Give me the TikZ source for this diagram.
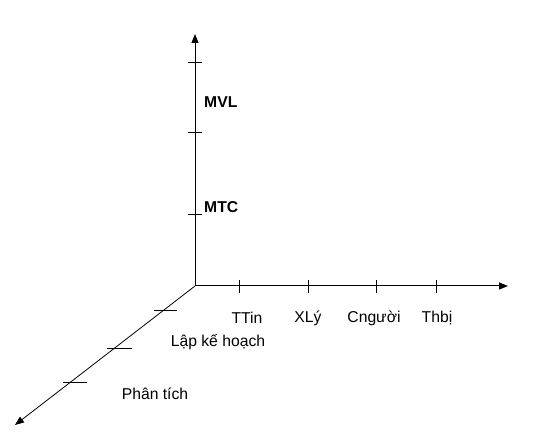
\documentclass[tikz,border=0pt]{standalone}
\usepackage{fontspec}
\setmainfont{Liberation Sans}
\usetikzlibrary{arrows.meta}
\begin{document}
\begin{tikzpicture}[x=1pt,y=-1pt,
  axis/.style={line width=1pt,-{Triangle[length=9pt,width=7pt]}},
  daxis/.style={line width=0.8pt,-{Triangle[length=9pt,width=7pt]}},
  tick/.style={line width=0.9pt},
  lbl/.style={font=\fontsize{15.7pt}{17pt}\selectfont, inner sep=0pt},
  blbl/.style={font=\fontsize{15.7pt}{17pt}\selectfont\bfseries, inner sep=0pt, anchor=west}]
\useasboundingbox (0,0) rectangle (536,438);
\coordinate (O) at (195,286);
\coordinate (Ytop) at (195,34);
\coordinate (Xend) at (508,286);
\coordinate (Zend) at (15,425);
\draw[axis] (O) -- (Ytop);
\draw[axis] (O) -- (Xend);
\draw[daxis] (O) -- (Zend);
% vertical ticks
\foreach \y in {62,132,214} \draw[tick] (188,\y) -- (202,\y);
% horizontal ticks
\foreach \x in {239,308,376,436} \draw[tick] (\x,280) -- (\x,293);
% diagonal ticks
\draw[tick] (154,310) -- (177,310);
\draw[tick] (107,348) -- (132,348);
\draw[tick] (63,382) -- (87,382);
% labels
\node[blbl] (mvl) at (204,102) {MVL};
\node[blbl] (mtc) at (204,207) {MTC};
\node[lbl] (ttin) at (247,318) {TTin};
\node[lbl] (xly) at (308,318) {XLý};
\node[lbl] (cng) at (374,318) {Cngười};
\node[lbl] (thbi) at (437,318) {Thbị};
\node[lbl] (lkh) at (218,342) {Lập kế hoạch};
\node[lbl] (pt) at (155,394) {Phân tích};
\end{tikzpicture}
\end{document}
